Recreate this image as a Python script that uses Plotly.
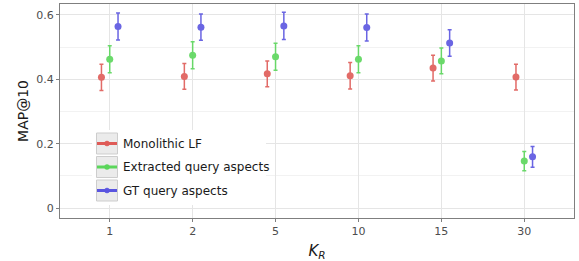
import plotly.graph_objects as go

categories = ["1", "2", "5", "10", "15", "30"]
series_names = ["Monolithic LF", "Extracted query aspects", "GT query aspects"]
mono_vals = [0.406, 0.409, 0.417, 0.411, 0.435, 0.407]
mono_err = [0.041, 0.040, 0.040, 0.041, 0.040, 0.040]
extr_vals = [0.462, 0.475, 0.470, 0.462, 0.457, 0.146]
extr_err = [0.042, 0.042, 0.042, 0.042, 0.040, 0.030]
gt_vals = [0.564, 0.562, 0.566, 0.561, 0.513, 0.159]
gt_err = [0.042, 0.041, 0.042, 0.042, 0.041, 0.032]

colors = ["#DF5B57", "#5BD65B", "#5A55E0"]
offsets = [-0.1, 0.0, 0.1]
values = [mono_vals, extr_vals, gt_vals]
errors = [mono_err, extr_err, gt_err]

W, H = 579, 261
L, R, T, B = 60, 5, 4, 43
PW, PH = W - L - R, H - T - B


def px(x):
    return (x - L) / PW


def py(y):
    return (H - B - y) / PH


fig = go.Figure()
for name, col, off, v, e in zip(series_names, colors, offsets, values, errors):
    xs = [i + off for i in range(len(categories))]
    fig.add_trace(go.Scatter(
        x=xs, y=v, mode="markers", name=name, showlegend=False,
        marker=dict(color=col, size=7),
        error_y=dict(type="data", array=e, visible=True, color=col,
                     thickness=1.5, width=2),
        opacity=0.9,
    ))

# legend drawn manually
fig.add_shape(type="rect", xref="paper", yref="paper",
              x0=px(92), x1=px(266), y0=py(205), y1=py(130),
              fillcolor="white", line=dict(width=0), layer="above")
centers = [143.5, 167, 190.5]
for k, (name, col) in enumerate(zip(series_names, colors)):
    cy = centers[k]
    fig.add_shape(type="rect", xref="paper", yref="paper",
                  x0=px(96.5), x1=px(117.5), y0=py(cy + 10.5), y1=py(cy - 10.5),
                  fillcolor="#EBEBEB", line=dict(color="#CDCDCD", width=1), layer="above")
    fig.add_shape(type="line", xref="paper", yref="paper",
                  x0=px(97), x1=px(117), y0=py(cy), y1=py(cy),
                  line=dict(color=col, width=3), layer="above")
    fig.add_shape(type="circle", xref="paper", yref="paper",
                  x0=px(104.5), x1=px(109.5), y0=py(cy + 2.5), y1=py(cy - 2.5),
                  fillcolor=col, line=dict(color=col, width=0.5), layer="above")
    fig.add_annotation(text=name, xref="paper", yref="paper", x=px(120.5), y=py(cy),
                       xanchor="left", yanchor="middle", showarrow=False,
                       font=dict(size=12, color="#1A1A1A"))

fig.update_layout(
    width=W, height=H,
    margin=dict(l=L, r=R, t=T, b=B),
    plot_bgcolor="white", paper_bgcolor="white",
    font=dict(family="DejaVu Sans", color="#4D4D4D", size=11),
    showlegend=False,
    xaxis=dict(
        range=[-0.6, 5.6], tickvals=list(range(len(categories))), ticktext=categories,
        showgrid=True, gridcolor="#E5E5E5", gridwidth=1,
        showline=True, linecolor="#7F7F7F", linewidth=1, mirror=True,
        ticks="outside", ticklen=3, tickcolor="#7F7F7F", zeroline=False,
        automargin=False,
        title=dict(text="<i>K<sub>R</sub></i>", font=dict(size=15, color="#1A1A1A"), standoff=9),
    ),
    yaxis=dict(
        range=[-0.031, 0.634], tickvals=[0, 0.2, 0.4, 0.6], ticktext=["0", "0.2", "0.4", "0.6"],
        showgrid=True, gridcolor="#E5E5E5", gridwidth=1.2,
        minor=dict(tickvals=[0.1, 0.3, 0.5], showgrid=True, gridcolor="#F2F2F2", gridwidth=1),
        showline=True, linecolor="#7F7F7F", linewidth=1, mirror=True,
        ticks="outside", ticklen=3, tickcolor="#7F7F7F", zeroline=False,
        automargin=False,
        title=dict(text="MAP@10", font=dict(size=14, color="#1A1A1A"), standoff=4),
    ),
)

fig.write_html("out.html", config={"displayModeBar": False},
               post_script="document.body.style.margin='0';document.body.style.overflow='hidden';")
